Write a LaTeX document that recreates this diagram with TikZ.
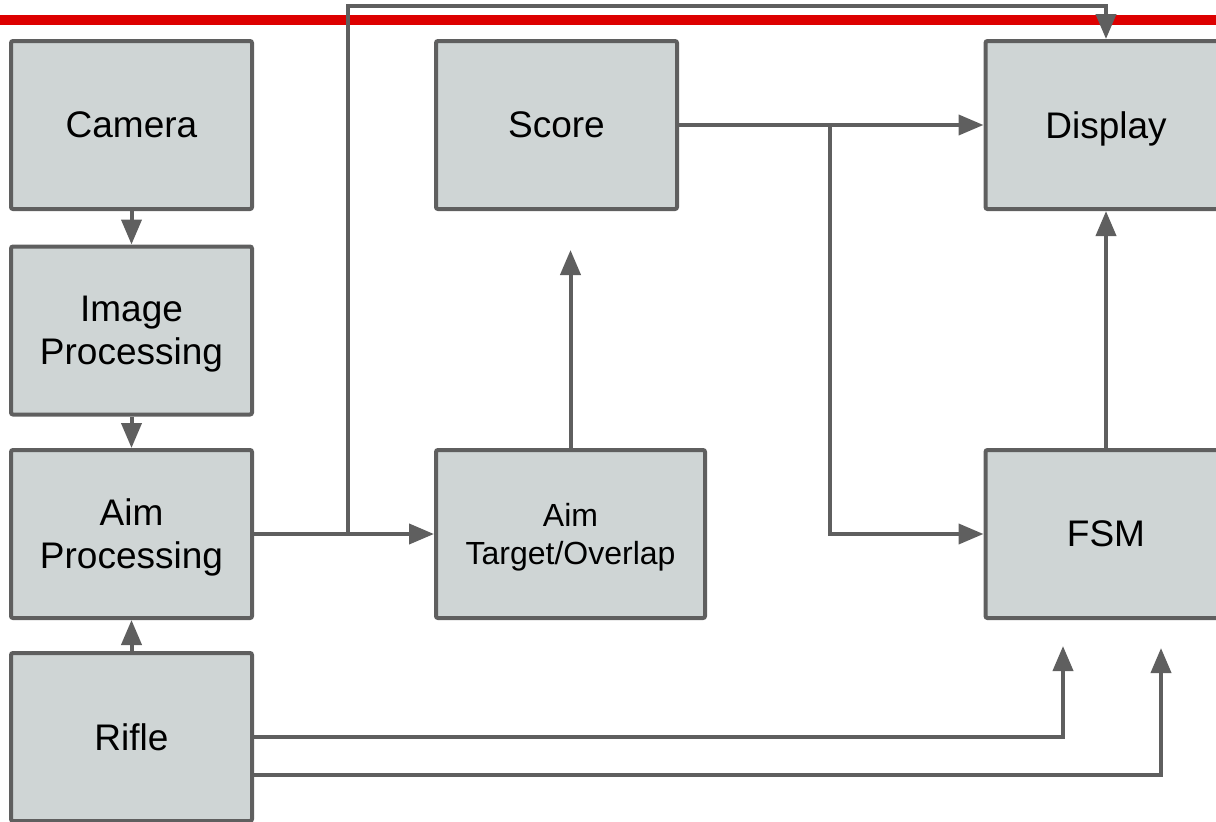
\documentclass[tikz,border=0pt]{standalone}
\usepackage{fontspec}
\setmainfont{Liberation Sans}
\usepackage{tikz}
\usetikzlibrary{arrows.meta}
\definecolor{linegray}{RGB}{95,95,95}
\definecolor{boxgray}{RGB}{207,213,213}
\definecolor{topred}{RGB}{221,0,0}
\tikzset{
    % 灰色方框
    graybox/.style={
        draw=linegray,
        line width=2pt,
        fill=boxgray,
        rounded corners=1pt,
        minimum width=120.5pt,
        minimum height=84pt,
        inner sep=0pt,
        text depth=0pt,
        align=center,
        font=\fontsize{18.5}{21.5}\selectfont
    },
    % 灰色箭头
    grayarrow/.style={
        line width=2pt,
        linegray,
        ->,
        >={Triangle[length=12.5pt, width=10pt]}
    }
}

\begin{document}
\begin{tikzpicture}[x=0.5pt,y=-0.5pt]
	\useasboundingbox (0,0) rectangle (1216,821);
	\clip (0,0) rectangle (1216,821);
	
	% 红线
	\fill[topred] (0,15) rectangle (1216,25);
	
	% 方框
	\node[graybox] (camera) at (131.5,125) {Camera};
	\node[graybox] (imgproc) at (131.5,330.5) {Image\\Processing};
	\node[graybox] (aimproc) at (131.5,534) {Aim\\Processing};
	\node[graybox] (rifle) at (131.5,737) {Rifle};
	\node[graybox] (score) at (556.5,125) {Score};
	\node[graybox, minimum width=134.5pt, font=\fontsize{16}{19}\selectfont] (aimtgt) at (570.5,534) {Aim\\Target/Overlap};
	\node[graybox] (display) at (1106,125) {Display};
	\node[graybox] (fsm) at (1106,534) {FSM};
	
	\path 
	(348,534) coordinate (j1)
	(348,6) coordinate (t1)
	(830,125) coordinate (j2)
	(570.5,250) coordinate (s1)
	(1063,646) coordinate (f1)
	(1161,648) coordinate (f2);
	
	% 左列箭头
	\draw[grayarrow] (camera.south) -- (imgproc.north);
	\draw[grayarrow] (imgproc.south) -- (aimproc.north);
	\draw[grayarrow] (rifle.north) -- (aimproc.south);
	\draw[grayarrow] (aimproc.east) -- (aimtgt.west);
	\draw[grayarrow] (j1) -- (t1) -| (display.north);
	
	% 中间和右列箭头
	\draw[grayarrow] (aimtgt.north) -- (s1);
	\draw[grayarrow] (score.east) -- (display.west);
	\draw[grayarrow] (j2) |- (fsm.west);
	\draw[grayarrow] (fsm.north) -- (display.south);
	
	% 底部两条线
	\draw[grayarrow] (rifle.east) -| (f1);
	\draw[grayarrow] ([yshift=-19pt]rifle.east) -| (f2);
\end{tikzpicture}
\end{document}
